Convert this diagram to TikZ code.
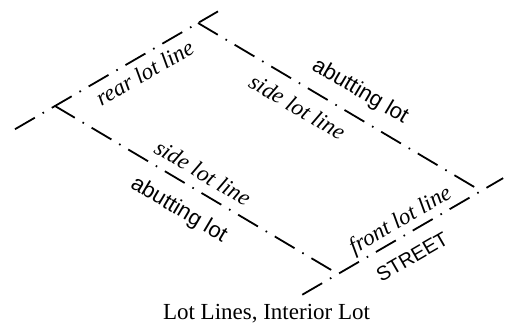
\documentclass[tikz,border=0pt]{standalone}
\usepackage{fontspec}
\setmainfont{Liberation Serif}
\newfontfamily\lotsans{Liberation Sans}
\usetikzlibrary{calc}

\begin{document}
\begin{tikzpicture}[
	% 1 unit = 1 px of the 505x326 frame
	x=0.5pt, y=0.5pt,
	lotline/.style={line width=0.9pt,
		dash pattern=on 11.5pt off 4.5pt on 0.8pt off 4.5pt},
	linelabel/.style={sloped, font=\itshape\fontsize{11.5}{13}\selectfont},
	abutlabel/.style={sloped, font=\lotsans\fontsize{11}{13}\selectfont},
	streetlabel/.style={sloped, font=\lotsans\fontsize{10}{12}\selectfont}
	]
	\useasboundingbox (0,0) rectangle (505,326);
	
	%
	% corners of the lot
	%
	\coordinate (rearL) at (55,220);
	\coordinate (rearR) at (198,303);
	\coordinate (frontR) at (481,135);
	\coordinate (frontL) at ($(rearL)+(frontR)-(rearR)$);
	% free ends of rear and front lines
	\coordinate (rearEndL) at ($(rearL)!-0.28!(rearR)$);
	\coordinate (rearEndR) at ($(rearR)!-0.14!(rearL)$);
	\coordinate (frontEndL) at ($(frontL)!-0.25!(frontR)$);
	\coordinate (frontEndR) at ($(frontR)!-0.155!(frontL)$);
	
	%
	% lot lines
	%
	\draw[lotline] (rearEndL) -- (rearEndR);
	\draw[lotline] (frontEndL) -- (frontEndR);
	\draw[lotline] (rearL) -- (frontL);
	\draw[lotline] (rearR) -- (frontR);
	
	%
	% labels
	%
	\path (rearL) -- node[linelabel, below, inner sep=3.9pt, pos=0.57] (rearlbl) {rear lot line} (rearR);
	\path (rearR) -- node[linelabel, below, inner sep=6.4pt, pos=0.39] (sideRlbl) {side lot line} (frontR);
	\path (rearR) -- node[abutlabel, above, inner sep=6.5pt, pos=0.53] (abutR) {abutting lot} (frontR);
	\path (rearL) -- node[linelabel, above, inner sep=4.8pt, pos=0.49] (sideLlbl) {side lot line} (frontL);
	\path (rearL) -- node[abutlabel, below, inner sep=7.8pt, pos=0.485] (abutL) {abutting lot} (frontL);
	\path (frontL) -- node[linelabel, above, inner sep=1.8pt, pos=0.49] (frontlbl) {front lot line} (frontR);
	\path (frontL) -- node[streetlabel, below, inner sep=7.4pt, pos=0.44] (street) {STREET} (frontR);
	
	\node[anchor=base, font=\fontsize{11.5}{13}\selectfont] (caption) at (266.5,6) {Lot Lines, Interior Lot};
\end{tikzpicture}
\end{document}
